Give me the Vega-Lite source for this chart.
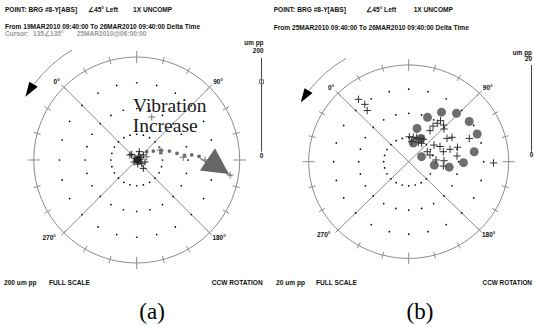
{
"$schema":"https://vega.github.io/schema/vega-lite/v6.json",
"padding":0,"spacing":0,"background":"white",
"config":{"view":{"stroke":null}},
"datasets":{
"diag":[{"x":-0.7071,"y":0.7071,"x2":0.7071,"y2":-0.7071},{"x":0.7071,"y":0.7071,"x2":-0.7071,"y2":-0.7071}],
"ticks":[{"x":0.94,"y":0,"x2":1.06,"y2":0},{"x":-0.94,"y":0,"x2":-1.06,"y2":0},{"x":0,"y":0.94,"x2":0,"y2":1.06},{"x":0,"y":-0.94,"x2":0,"y2":-1.06},
{"x":0.932,"y":0.25,"x2":1.0,"y2":0.268},{"x":0.836,"y":0.483,"x2":0.896,"y2":0.518},{"x":0.682,"y":0.682,"x2":0.732,"y2":0.732},{"x":0.483,"y":0.836,"x2":0.518,"y2":0.896},{"x":0.25,"y":0.932,"x2":0.268,"y2":1.0},
{"x":-0.932,"y":0.25,"x2":-1.0,"y2":0.268},{"x":-0.836,"y":0.483,"x2":-0.896,"y2":0.518},{"x":-0.682,"y":0.682,"x2":-0.732,"y2":0.732},{"x":-0.483,"y":0.836,"x2":-0.518,"y2":0.896},{"x":-0.25,"y":0.932,"x2":-0.268,"y2":1.0},
{"x":-0.932,"y":-0.25,"x2":-1.0,"y2":-0.268},{"x":-0.836,"y":-0.483,"x2":-0.896,"y2":-0.518},{"x":-0.682,"y":-0.682,"x2":-0.732,"y2":-0.732},{"x":-0.483,"y":-0.836,"x2":-0.518,"y2":-0.896},{"x":-0.25,"y":-0.932,"x2":-0.268,"y2":-1.0},
{"x":0.932,"y":-0.25,"x2":1.0,"y2":-0.268},{"x":0.836,"y":-0.483,"x2":0.896,"y2":-0.518},{"x":0.682,"y":-0.682,"x2":0.732,"y2":-0.732},{"x":0.483,"y":-0.836,"x2":0.518,"y2":-0.896},{"x":0.25,"y":-0.932,"x2":0.268,"y2":-1.0}],
"grid":[{"x":0.25,"y":0},{"x":0.241,"y":0.065},{"x":0.217,"y":0.125},{"x":0.177,"y":0.177},{"x":0.125,"y":0.217},{"x":0.065,"y":0.241},{"x":0,"y":0.25},{"x":-0.065,"y":0.241},{"x":-0.125,"y":0.217},{"x":-0.177,"y":0.177},{"x":-0.217,"y":0.125},{"x":-0.241,"y":0.065},{"x":-0.25,"y":0},{"x":-0.241,"y":-0.065},{"x":-0.217,"y":-0.125},{"x":-0.177,"y":-0.177},{"x":-0.125,"y":-0.217},{"x":-0.065,"y":-0.241},{"x":0,"y":-0.25},{"x":0.065,"y":-0.241},{"x":0.125,"y":-0.217},{"x":0.177,"y":-0.177},{"x":0.217,"y":-0.125},{"x":0.241,"y":-0.065},
{"x":0.5,"y":0},{"x":0.483,"y":0.129},{"x":0.433,"y":0.25},{"x":0.354,"y":0.354},{"x":0.25,"y":0.433},{"x":0.129,"y":0.483},{"x":0,"y":0.5},{"x":-0.129,"y":0.483},{"x":-0.25,"y":0.433},{"x":-0.354,"y":0.354},{"x":-0.433,"y":0.25},{"x":-0.483,"y":0.129},{"x":-0.5,"y":0},{"x":-0.483,"y":-0.129},{"x":-0.433,"y":-0.25},{"x":-0.354,"y":-0.354},{"x":-0.25,"y":-0.433},{"x":-0.129,"y":-0.483},{"x":0,"y":-0.5},{"x":0.129,"y":-0.483},{"x":0.25,"y":-0.433},{"x":0.354,"y":-0.354},{"x":0.433,"y":-0.25},{"x":0.483,"y":-0.129},
{"x":0.75,"y":0},{"x":0.724,"y":0.194},{"x":0.65,"y":0.375},{"x":0.53,"y":0.53},{"x":0.375,"y":0.65},{"x":0.194,"y":0.724},{"x":0,"y":0.75},{"x":-0.194,"y":0.724},{"x":-0.375,"y":0.65},{"x":-0.53,"y":0.53},{"x":-0.65,"y":0.375},{"x":-0.724,"y":0.194},{"x":-0.75,"y":0},{"x":-0.724,"y":-0.194},{"x":-0.65,"y":-0.375},{"x":-0.53,"y":-0.53},{"x":-0.375,"y":-0.65},{"x":-0.194,"y":-0.724},{"x":0,"y":-0.75},{"x":0.194,"y":-0.724},{"x":0.375,"y":-0.65},{"x":0.53,"y":-0.53},{"x":0.65,"y":-0.375},{"x":0.724,"y":-0.194}],
"angles":[{"x":-0.777,"y":0.76,"label":"0°"},{"x":0.79,"y":0.76,"label":"90°"},{"x":0.8,"y":-0.755,"label":"180°"},{"x":-0.85,"y":-0.755,"label":"270°"}],
"arc":[{"x":-0.628,"y":1.067},{"x":-0.728,"y":1.002},{"x":-0.828,"y":0.92},{"x":-0.92,"y":0.828},{"x":-0.995,"y":0.736}],
"arrow":[{"x":-1.028,"y":0.694}],
"barTicksA":[{"y":0.081,"k":"M"},{"y":0.126,"k":"m"},{"y":0.172,"k":"m"},{"y":0.217,"k":"m"},{"y":0.263,"k":"m"},{"y":0.308,"k":"M"},{"y":0.354,"k":"m"},{"y":0.399,"k":"m"},{"y":0.445,"k":"m"},{"y":0.49,"k":"m"},{"y":0.536,"k":"M"},{"y":0.581,"k":"m"},{"y":0.627,"k":"m"},{"y":0.672,"k":"m"},{"y":0.718,"k":"m"},{"y":0.763,"k":"M"},{"y":0.808,"k":"m"},{"y":0.854,"k":"m"},{"y":0.899,"k":"m"},{"y":0.945,"k":"m"},{"y":0.99,"k":"M"}],
"barTicksB":[{"y":0.103,"k":"M"},{"y":0.148,"k":"m"},{"y":0.193,"k":"m"},{"y":0.238,"k":"m"},{"y":0.282,"k":"m"},{"y":0.327,"k":"M"},{"y":0.372,"k":"m"},{"y":0.417,"k":"m"},{"y":0.462,"k":"m"},{"y":0.507,"k":"m"},{"y":0.552,"k":"M"},{"y":0.596,"k":"m"},{"y":0.641,"k":"m"},{"y":0.686,"k":"m"},{"y":0.731,"k":"m"},{"y":0.776,"k":"M"},{"y":0.821,"k":"m"},{"y":0.865,"k":"m"},{"y":0.91,"k":"m"},{"y":0.955,"k":"m"},{"y":1.0,"k":"M"}],
"plusDarkA":[{"x":-0.049,"y":0.055},{"x":0.025,"y":0.081},{"x":0.064,"y":0.049},{"x":0,"y":0},{"x":0.032,"y":0.007},{"x":-0.017,"y":0.017},{"x":0.049,"y":-0.032},{"x":0.064,"y":-0.081},{"x":0.017,"y":0.039},{"x":-0.026,"y":-0.019},{"x":0.081,"y":-0.019},{"x":-0.065,"y":0.049},{"x":0.01,"y":-0.04},{"x":0.04,"y":0.025}],
"plusGrayA":[{"x":0.097,"y":0.032},{"x":0.226,"y":0.097},{"x":0.452,"y":0.026},{"x":0.663,"y":0.0},{"x":0.906,"y":-0.146},{"x":0.146,"y":0.417}],
"dotsA":[{"x":0.097,"y":0.081},{"x":0.161,"y":0.087},{"x":0.24,"y":0.094},{"x":0.233,"y":0.071},{"x":0.318,"y":0.087},{"x":0.391,"y":0.065},{"x":0.464,"y":0.044},{"x":0.534,"y":0.049},{"x":0.605,"y":0.036}],
"plusB":[{"x":-0.502,"y":0.645},{"x":-0.439,"y":0.593},{"x":-0.415,"y":0.529},{"x":0.213,"y":0.321},{"x":0.243,"y":0.368},{"x":0.286,"y":0.397},{"x":0.318,"y":0.424},{"x":0.348,"y":0.379},{"x":0.353,"y":0.338},{"x":0.006,"y":0.258},{"x":0.046,"y":0.252},{"x":0.08,"y":0.252},{"x":0.12,"y":0.241},{"x":0.146,"y":0.231},{"x":0.03,"y":0.207},{"x":0.096,"y":0.197},{"x":0.13,"y":0.19},{"x":0.253,"y":0.172},{"x":0.313,"y":0.157},{"x":0.383,"y":0.241},{"x":0.433,"y":0.252},{"x":0.606,"y":0.241},{"x":0.186,"y":0.103},{"x":0.213,"y":0.069},{"x":0.346,"y":0.103},{"x":0.413,"y":0.128},{"x":0.488,"y":0.149},{"x":0.273,"y":0.018},{"x":0.353,"y":0.01},{"x":0.483,"y":0.059},{"x":0.346,"y":-0.045},{"x":0.848,"y":-0.013}],
"circlesB":[{"x":0.188,"y":0.459},{"x":0.328,"y":0.512},{"x":0.478,"y":0.501},{"x":0.605,"y":0.416},{"x":0.685,"y":0.286},{"x":0.083,"y":0.343},{"x":0.655,"y":0.103},{"x":0.548,"y":-0.01},{"x":0.405,"y":-0.057},{"x":0.256,"y":-0.036},{"x":0.128,"y":0.052},{"x":0.046,"y":0.193},{"x":0.123,"y":0.24}],
"txtA":[{"x":-1.279,"y":1.44,"label":"POINT: BRG #8-Y[ABS]","r":"h"},{"x":-0.473,"y":1.44,"label":"∠45° Left","r":"h"},{"x":-0.036,"y":1.44,"label":"1X UNCOMP","r":"h"},{"x":-1.279,"y":1.269,"label":"From 19MAR2010 09:40:00 To 26MAR2010 09:40:00 Delta Time","r":"h"},{"x":-1.279,"y":1.204,"label":"Cursor:","r":"c"},{"x":-1.007,"y":1.204,"label":"135∠135°","r":"c"},{"x":-0.583,"y":1.204,"label":"25MAR2010@06:00:00","r":"c"},{"x":-1.288,"y":-1.217,"label":"200 um pp","r":"h"},{"x":-0.851,"y":-1.217,"label":"FULL SCALE","r":"h"},{"x":0.728,"y":-1.217,"label":"CCW ROTATION","r":"h"},{"x":1.231,"y":1.117,"label":"um pp","r":"s"},{"x":1.231,"y":1.042,"label":"200","r":"s"},{"x":1.212,"y":0.0165,"label":"0","r":"z"},{"x":-0.036,"y":0.462,"label":"Vibration","r":"v"},{"x":-0.039,"y":0.272,"label":"Increase","r":"i"},{"x":0.149,"y":-1.541,"label":"(a)","r":"cap"}],
"txtB":[{"x":-1.35,"y":1.548,"label":"POINT: BRG #8-Y[ABS]","r":"h"},{"x":-0.424,"y":1.548,"label":"∠45° Left","r":"h"},{"x":0.05,"y":1.548,"label":"1X UNCOMP","r":"h"},{"x":-1.35,"y":1.362,"label":"From 25MAR2010 09:40:00 To 26MAR2010 09:40:00 Delta Time","r":"h"},{"x":-1.327,"y":-1.278,"label":"20 um pp","r":"h"},{"x":-0.927,"y":-1.278,"label":"FULL SCALE","r":"h"},{"x":1.233,"y":-1.278,"label":"CCW ROTATION","r":"s"},{"x":1.233,"y":1.103,"label":"um pp","r":"s"},{"x":1.233,"y":1.044,"label":"20","r":"s"},{"x":1.228,"y":0.045,"label":"0","r":"z"},{"x":0.113,"y":-1.624,"label":"(b)","r":"cap"}]
},
"hconcat":[
{"width":267,"height":326,
"encoding":{"x":{"field":"x","type":"quantitative","scale":{"domain":[-1.3272,1.265],"nice":false,"zero":false},"axis":null},"y":{"field":"y","type":"quantitative","scale":{"domain":[-1.6117,1.5534],"nice":false,"zero":false},"axis":null}},
"layer":[
{"data":{"values":[{"x":0,"y":0}]},"mark":{"type":"point","shape":"circle","filled":false,"size":42436,"color":"#8c8c8c","strokeWidth":1,"opacity":1}},
{"data":{"name":"diag"},"mark":{"type":"rule","color":"#8c8c8c","strokeWidth":1},"encoding":{"x2":{"field":"x2"},"y2":{"field":"y2"}}},
{"data":{"name":"ticks"},"mark":{"type":"rule","color":"#8c8c8c","strokeWidth":1},"encoding":{"x2":{"field":"x2"},"y2":{"field":"y2"}}},
{"data":{"name":"grid"},"mark":{"type":"point","shape":"circle","filled":true,"size":3,"color":"#000","opacity":1}},
{"data":{"name":"arc"},"mark":{"type":"line","color":"#8c8c8c","strokeWidth":1},"encoding":{}},
{"data":{"name":"arrow"},"mark":{"type":"point","shape":"M-0.6,0.92L-0.16,-0.74L0.77,-0.19Z","filled":true,"size":324,"color":"#000","opacity":1}},
{"data":{"name":"angles"},"mark":{"type":"text","font":"Liberation Sans","fontSize":6.5,"fontWeight":"bold","color":"#111","align":"center","baseline":"middle"},"encoding":{"text":{"field":"label"}}},
{"data":{"values":[{"x":1.212,"y":0.081,"y2":0.99}]},"mark":{"type":"rule","color":"#444","strokeWidth":1},"encoding":{"y2":{"field":"y2"}}},
{"data":{"name":"barTicksA"},"transform":[{"filter":"datum.k === 'm'"}],"mark":{"type":"rule","color":"#444","strokeWidth":1},"encoding":{"x":{"datum":1.188},"x2":{"datum":1.212}}},
{"data":{"name":"barTicksA"},"transform":[{"filter":"datum.k === 'M'"}],"mark":{"type":"rule","color":"#444","strokeWidth":1},"encoding":{"x":{"datum":1.162},"x2":{"datum":1.212}}},
{"data":{"values":[{"x":1.212,"y":0.76}]},"mark":{"type":"point","shape":"square","filled":false,"size":16,"color":"#777","strokeWidth":1,"opacity":1}},
{"data":{"name":"dotsA"},"mark":{"type":"point","shape":"circle","filled":true,"size":14,"color":"#6a6a6a","opacity":1}},
{"data":{"name":"plusGrayA"},"mark":{"type":"point","shape":"M-1,0L1,0M0,-1L0,1","filled":false,"size":49,"color":"#777","strokeWidth":1,"opacity":1}},
{"data":{"name":"plusDarkA"},"mark":{"type":"point","shape":"M-1,0L1,0M0,-1L0,1","filled":false,"size":49,"color":"#222","strokeWidth":1,"opacity":1}},
{"data":{"values":[{"x":0.01,"y":0.0}]},"mark":{"type":"point","shape":"circle","filled":true,"size":55,"color":"#222","opacity":1}},
{"data":{"values":[{"x":0.614,"y":0.016,"x2":0.922,"y2":-0.155}]},"mark":{"type":"rule","color":"#666","strokeWidth":1},"encoding":{"x2":{"field":"x2"},"y2":{"field":"y2"}}},
{"data":{"values":[{"x":0.757,"y":-0.042}]},"mark":{"type":"point","shape":"M0.02,-1L-0.92,0.39L0.89,0.61Z","filled":true,"size":1024,"color":"#666","opacity":1}},
{"data":{"name":"txtA"},"transform":[{"filter":"datum.r === 'h'"}],"mark":{"type":"text","font":"Liberation Sans","fontSize":6.6,"fontWeight":"bold","color":"#111","align":"left","baseline":"alphabetic"},"encoding":{"text":{"field":"label"}}},
{"data":{"name":"txtA"},"transform":[{"filter":"datum.r === 'c'"}],"mark":{"type":"text","font":"Liberation Sans","fontSize":6.6,"fontWeight":"bold","color":"#999","align":"left","baseline":"alphabetic"},"encoding":{"text":{"field":"label"}}},
{"data":{"name":"txtA"},"transform":[{"filter":"datum.r === 's'"}],"mark":{"type":"text","font":"Liberation Sans","fontSize":6.4,"fontWeight":"bold","color":"#111","align":"right","baseline":"alphabetic"},"encoding":{"text":{"field":"label"}}},
{"data":{"name":"txtA"},"transform":[{"filter":"datum.r === 'z'"}],"mark":{"type":"text","font":"Liberation Sans","fontSize":6.4,"fontWeight":"bold","color":"#111","align":"center","baseline":"alphabetic"},"encoding":{"text":{"field":"label"}}},
{"data":{"name":"txtA"},"transform":[{"filter":"datum.r === 'v'"}],"mark":{"type":"text","font":"Liberation Serif","fontSize":19.5,"letterSpacing":3,"color":"#1a1a1a","align":"left","baseline":"alphabetic"},"encoding":{"text":{"field":"label"}}},
{"data":{"name":"txtA"},"transform":[{"filter":"datum.r === 'i'"}],"mark":{"type":"text","font":"Liberation Serif","fontSize":19.5,"letterSpacing":0.8,"color":"#1a1a1a","align":"left","baseline":"alphabetic"},"encoding":{"text":{"field":"label"}}},
{"data":{"name":"txtA"},"transform":[{"filter":"datum.r === 'cap'"}],"mark":{"type":"text","font":"Liberation Serif","fontSize":23,"color":"#000","align":"center","baseline":"alphabetic"},"encoding":{"text":{"field":"label"}}}
]},
{"width":267,"height":326,
"encoding":{"x":{"field":"x","type":"quantitative","scale":{"domain":[-1.417,1.253],"nice":false,"zero":false},"axis":null},"y":{"field":"y","type":"quantitative","scale":{"domain":[-1.699,1.672],"nice":false,"zero":false},"axis":null}},
"layer":[
{"data":{"values":[{"x":0,"y":0}]},"mark":{"type":"point","shape":"M-1,0A1,0.967,0,1,1,1,0A1,0.967,0,1,1,-1,0Z","filled":false,"size":40000,"color":"#8c8c8c","strokeWidth":1,"opacity":1}},
{"data":{"name":"diag"},"mark":{"type":"rule","color":"#8c8c8c","strokeWidth":1},"encoding":{"x2":{"field":"x2"},"y2":{"field":"y2"}}},
{"data":{"name":"ticks"},"mark":{"type":"rule","color":"#8c8c8c","strokeWidth":1},"encoding":{"x2":{"field":"x2"},"y2":{"field":"y2"}}},
{"data":{"name":"grid"},"mark":{"type":"point","shape":"circle","filled":true,"size":3,"color":"#000","opacity":1}},
{"data":{"name":"arc"},"mark":{"type":"line","color":"#8c8c8c","strokeWidth":1},"encoding":{}},
{"data":{"name":"arrow"},"mark":{"type":"point","shape":"M-0.6,0.92L-0.16,-0.74L0.77,-0.19Z","filled":true,"size":300,"color":"#000","opacity":1}},
{"data":{"name":"angles"},"mark":{"type":"text","font":"Liberation Sans","fontSize":6.5,"fontWeight":"bold","color":"#111","align":"center","baseline":"middle"},"encoding":{"text":{"field":"label"}}},
{"data":{"values":[{"x":1.228,"y":0.103,"y2":1.0}]},"mark":{"type":"rule","color":"#444","strokeWidth":1},"encoding":{"y2":{"field":"y2"}}},
{"data":{"name":"barTicksB"},"transform":[{"filter":"datum.k === 'm'"}],"mark":{"type":"rule","color":"#444","strokeWidth":1},"encoding":{"x":{"datum":1.203},"x2":{"datum":1.228}}},
{"data":{"name":"barTicksB"},"transform":[{"filter":"datum.k === 'M'"}],"mark":{"type":"rule","color":"#444","strokeWidth":1},"encoding":{"x":{"datum":1.178},"x2":{"datum":1.228}}},
{"data":{"name":"circlesB"},"mark":{"type":"point","shape":"circle","filled":true,"size":80,"color":"#6e6e6e","opacity":1}},
{"data":{"name":"plusB"},"mark":{"type":"point","shape":"M-1,0L1,0M0,-1L0,1","filled":false,"size":56,"color":"#333","strokeWidth":1,"opacity":1}},
{"data":{"name":"txtB"},"transform":[{"filter":"datum.r === 'h'"}],"mark":{"type":"text","font":"Liberation Sans","fontSize":6.6,"fontWeight":"bold","color":"#111","align":"left","baseline":"alphabetic"},"encoding":{"text":{"field":"label"}}},
{"data":{"name":"txtB"},"transform":[{"filter":"datum.r === 's'"}],"mark":{"type":"text","font":"Liberation Sans","fontSize":6.4,"fontWeight":"bold","color":"#111","align":"right","baseline":"alphabetic"},"encoding":{"text":{"field":"label"}}},
{"data":{"name":"txtB"},"transform":[{"filter":"datum.r === 'z'"}],"mark":{"type":"text","font":"Liberation Sans","fontSize":6.4,"fontWeight":"bold","color":"#111","align":"center","baseline":"alphabetic"},"encoding":{"text":{"field":"label"}}},
{"data":{"name":"txtB"},"transform":[{"filter":"datum.r === 'cap'"}],"mark":{"type":"text","font":"Liberation Serif","fontSize":23,"color":"#000","align":"center","baseline":"alphabetic"},"encoding":{"text":{"field":"label"}}}
]}
]
}
